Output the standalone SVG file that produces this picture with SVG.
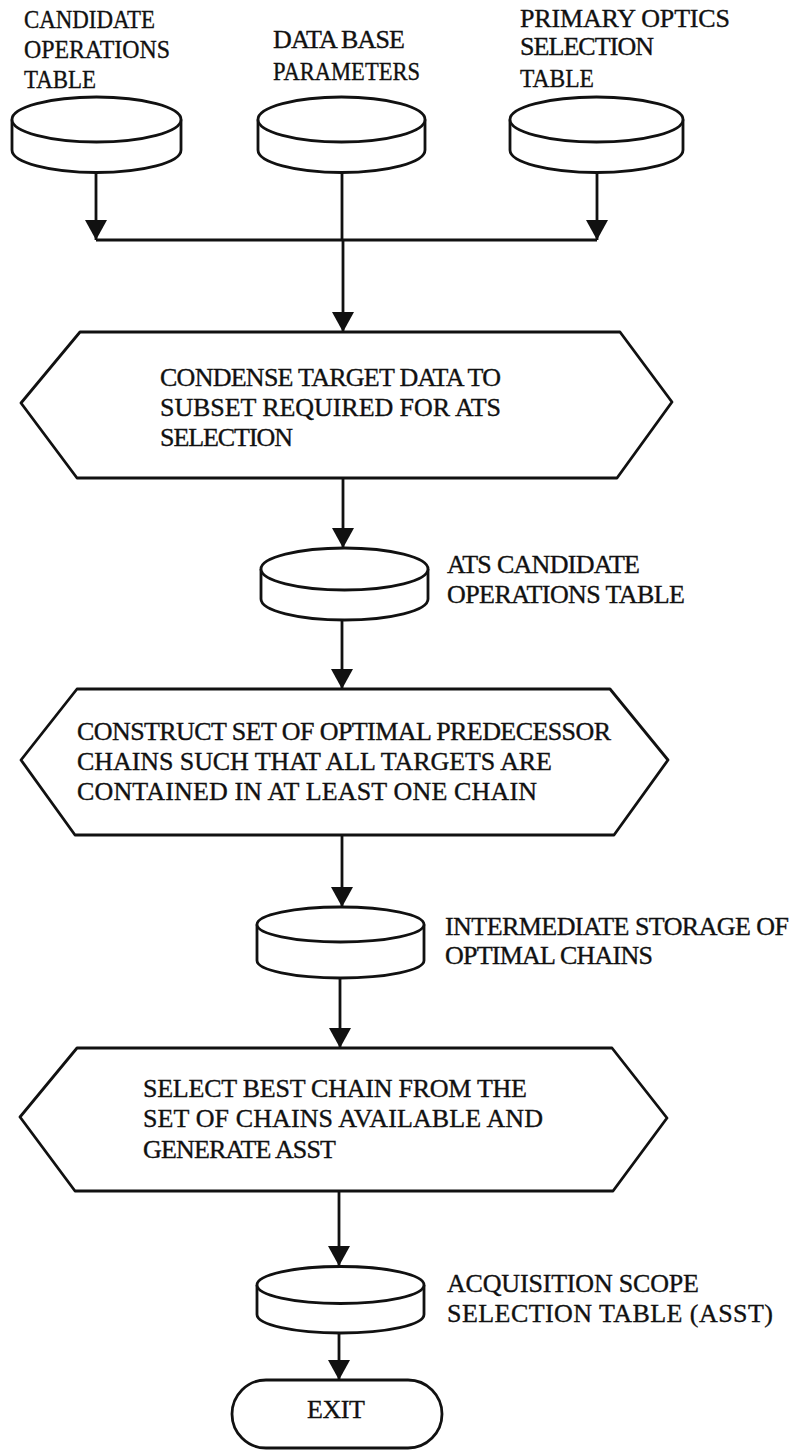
<svg xmlns="http://www.w3.org/2000/svg" width="794" height="1452" viewBox="0 0 794 1452">
<style>
.s{fill:#fff;stroke:#111;stroke-width:2.8;stroke-linejoin:round}
.c{fill:none;stroke:#111;stroke-width:2.8}
.a{fill:none;stroke:#111;stroke-width:2.8;marker-end:url(#arr)}
text{font-family:"Liberation Serif","Times New Roman",serif;font-size:26px;fill:#111;stroke:#111;stroke-width:0.35}
</style>
<defs>
<marker id="arr" markerUnits="userSpaceOnUse" viewBox="0 0 20 22" refX="20" refY="11" markerWidth="20" markerHeight="22" orient="auto">
<path d="M0,0 L20,11 L0,22 z" fill="#111" stroke="none"/>
</marker>
</defs>
<rect width="794" height="1452" fill="#fff"/>

<g id="connectors">
<path class="a" d="M96,172 V240"/>
<path class="a" d="M597,172 V240"/>
<path class="c" d="M342,172 V240"/>
<path class="c" d="M96,240 H597"/>
<path class="a" d="M343,240 V332"/>
<path class="a" d="M343,478 V548"/>
<path class="a" d="M342,620 V689"/>
<path class="a" d="M342,835 V907"/>
<path class="a" d="M340,978 V1048"/>
<path class="a" d="M339,1191 V1266"/>
<path class="a" d="M339,1333 V1380"/>
</g>

<g id="candidate-ops-table">
<path class="s" d="M12,119.5 V150 A84.5,22.5 0 0 0 181,150 V119.5"/>
<ellipse class="s" cx="96.5" cy="119.5" rx="84.5" ry="22.5"/>
<text x="24" y="28" textLength="131" lengthAdjust="spacingAndGlyphs">CANDIDATE</text>
<text x="24" y="58" textLength="146" lengthAdjust="spacingAndGlyphs">OPERATIONS</text>
<text x="24" y="88" textLength="72" lengthAdjust="spacingAndGlyphs">TABLE</text>
</g>

<g id="data-base-parameters">
<path class="s" d="M258,119.5 V150 A83.5,22.5 0 0 0 425,150 V119.5"/>
<ellipse class="s" cx="341.5" cy="119.5" rx="83.5" ry="22.5"/>
<text x="273" y="48" textLength="132" lengthAdjust="spacing">DATA BASE</text>
<text x="273" y="80" textLength="147" lengthAdjust="spacingAndGlyphs">PARAMETERS</text>
</g>

<g id="primary-optics-table">
<path class="s" d="M510,119.5 V150 A86.5,22.5 0 0 0 683,150 V119.5"/>
<ellipse class="s" cx="596.5" cy="119.5" rx="86.5" ry="22.5"/>
<text x="520" y="27" textLength="210" lengthAdjust="spacing">PRIMARY OPTICS</text>
<text x="520" y="55" textLength="134" lengthAdjust="spacing">SELECTION</text>
<text x="520" y="87" textLength="74" lengthAdjust="spacingAndGlyphs">TABLE</text>
</g>

<g id="condense">
<polygon class="s" points="80,332 620,332 672,402 617,478 77,478 21,403"/>
<text x="160" y="386" textLength="341" lengthAdjust="spacing">CONDENSE TARGET DATA TO</text>
<text x="160" y="416" textLength="341" lengthAdjust="spacing">SUBSET REQUIRED FOR ATS</text>
<text x="160" y="446" textLength="133" lengthAdjust="spacing">SELECTION</text>
</g>

<g id="ats-table">
<path class="s" d="M261,569 V599 A83.5,21 0 0 0 428,599 V569"/>
<ellipse class="s" cx="344.5" cy="569" rx="83.5" ry="21"/>
<text x="447" y="573" textLength="193" lengthAdjust="spacing">ATS CANDIDATE</text>
<text x="447" y="603" textLength="238" lengthAdjust="spacing">OPERATIONS TABLE</text>
</g>

<g id="construct">
<polygon class="s" points="77,689 610,689 668,760 614,835 75,835 21,760"/>
<text x="77" y="740" textLength="534" lengthAdjust="spacing">CONSTRUCT SET OF OPTIMAL PREDECESSOR</text>
<text x="77" y="770" textLength="475" lengthAdjust="spacing">CHAINS SUCH THAT ALL TARGETS ARE</text>
<text x="77" y="800" textLength="460" lengthAdjust="spacing">CONTAINED IN AT LEAST ONE CHAIN</text>
</g>

<g id="intermediate-storage">
<path class="s" d="M257,924.5 V960.5 A83.5,17.5 0 0 0 424,960.5 V924.5"/>
<ellipse class="s" cx="340.5" cy="924.5" rx="83.5" ry="17.5"/>
<text x="445" y="935" textLength="344" lengthAdjust="spacing">INTERMEDIATE STORAGE OF</text>
<text x="445" y="964" textLength="208" lengthAdjust="spacing">OPTIMAL CHAINS</text>
</g>

<g id="select-best">
<polygon class="s" points="77,1048 612,1048 667,1118 613,1191 75,1191 20,1117"/>
<text x="143" y="1097" textLength="384" lengthAdjust="spacing">SELECT BEST CHAIN FROM THE</text>
<text x="143" y="1127" textLength="400" lengthAdjust="spacing">SET OF CHAINS AVAILABLE AND</text>
<text x="143" y="1158" textLength="193" lengthAdjust="spacing">GENERATE ASST</text>
</g>

<g id="asst-table">
<path class="s" d="M257,1285 V1314.5 A83.5,18.5 0 0 0 424,1314.5 V1285"/>
<ellipse class="s" cx="340.5" cy="1285" rx="83.5" ry="18.5"/>
<text x="447" y="1292" textLength="252" lengthAdjust="spacing">ACQUISITION SCOPE</text>
<text x="447" y="1322" textLength="326" lengthAdjust="spacing">SELECTION TABLE (ASST)</text>
</g>

<g id="exit">
<rect class="s" x="232" y="1380" width="210" height="68" rx="34" ry="34"/>
<text x="307" y="1418" textLength="58" lengthAdjust="spacing">EXIT</text>
</g>
</svg>
